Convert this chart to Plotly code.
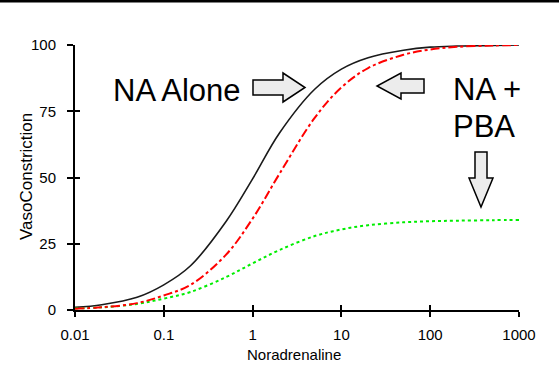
import plotly.graph_objects as go

# Data
conc = [0.01, 0.02, 0.05, 0.1, 0.2, 0.5, 1, 2, 5, 10, 20, 50, 100, 200, 500, 1000]
na_alone = [1.0, 2.0, 4.8, 9.5, 16.7, 33.3, 49.5, 66.7, 83.3, 90.9, 95.2, 98.0, 99.2, 99.6, 99.8, 100]
na_pba_red = [0.5, 1.0, 2.6, 5.5, 9.5, 20.8, 34.5, 51.3, 72.5, 84.0, 91.3, 96.3, 98.3, 99.3, 99.8, 100]
na_pba_green = [0.6, 1.0, 2.3, 4.3, 6.8, 12.4, 17.6, 22.6, 27.9, 30.4, 32.0, 33.1, 33.5, 33.7, 33.9, 34.0]

x_ticks = [0.01, 0.1, 1, 10, 100, 1000]
x_tick_text = ["0.01", "0.1", "1", "10", "100", "1000"]
y_ticks = [0, 25, 50, 75, 100]

FONT = "Liberation Sans, Arial, sans-serif"

fig = go.Figure()
fig.add_trace(go.Scatter(x=conc, y=na_alone, mode="lines", line=dict(color="#1a1a1a", width=1.6, shape="spline"), showlegend=False))
fig.add_trace(go.Scatter(x=conc, y=na_pba_green, mode="lines", line=dict(color="#00ee00", width=2, dash="dot", shape="spline"), showlegend=False))
fig.add_trace(go.Scatter(x=conc, y=na_pba_red, mode="lines", line=dict(color="#ff0000", width=2, dash="dashdot", shape="spline"), showlegend=False))

axis_common = dict(showgrid=False, zeroline=False, showline=True, linecolor="black", linewidth=2,
                   ticks="outside", tickcolor="black", tickwidth=2,
                   tickfont=dict(family=FONT, size=15, color="black"))

fig.update_layout(
    width=559, height=392,
    margin=dict(l=75, r=40, t=45, b=82),
    paper_bgcolor="white", plot_bgcolor="white",
    font=dict(family=FONT, color="black"),
    xaxis=dict(type="log", range=[-2, 3], tickvals=x_ticks, ticktext=x_tick_text, ticklen=5,
               ticklabelstandoff=5, **axis_common),
    yaxis=dict(range=[0, 100], tickvals=y_ticks, ticklen=6, ticklabelstandoff=8, **axis_common),
    xaxis2=dict(type="log", range=[-2, 3], tickvals=x_ticks, ticks="inside", ticklen=5, tickwidth=2,
                tickcolor="black", showticklabels=False, showgrid=False, zeroline=False,
                overlaying="x", anchor="y"),
    yaxis2=dict(range=[0, 100], tickvals=y_ticks, ticks="inside", ticklen=5, tickwidth=2,
                tickcolor="black", showticklabels=False, showgrid=False, zeroline=False,
                overlaying="y", anchor="x"),
)
# invisible trace to activate overlay axes
fig.add_trace(go.Scatter(x=[conc[0]], y=[na_alone[0]], xaxis="x2", yaxis="y2", mode="markers",
                         marker=dict(opacity=0), showlegend=False, hoverinfo="skip"))

# Axis titles
fig.add_annotation(xref="paper", yref="paper", x=(294 - 75) / 444, y=(310 - 354) / 265,
                   xanchor="center", yanchor="middle", text="Noradrenaline", showarrow=False,
                   font=dict(family=FONT, size=15, color="black"))
fig.add_annotation(xref="paper", yref="paper", x=(26 - 75) / 444, y=(310 - 177) / 265,
                   xanchor="center", yanchor="middle", text="VasoConstriction", showarrow=False,
                   textangle=-90, font=dict(family=FONT, size=17, color="black"))

# Text annotations
fig.add_annotation(xref="paper", yref="paper", x=(111 - 75) / 444, y=(310 - 90) / 265, xanchor="left",
                   yanchor="middle", text="NA Alone", showarrow=False,
                   font=dict(family=FONT, size=31, color="black"))
fig.add_annotation(xref="paper", yref="paper", x=(451 - 75) / 444, y=(310 - 89) / 265, xanchor="left",
                   yanchor="middle", text="NA +", showarrow=False,
                   font=dict(family=FONT, size=31, color="black"))
fig.add_annotation(xref="paper", yref="paper", x=(451 - 75) / 444, y=(310 - 126) / 265, xanchor="left",
                   yanchor="middle", text="PBA", showarrow=False,
                   font=dict(family=FONT, size=31, color="black"))


def P(px, py):
    return f"{(px - 75) / 444:.5f},{(310 - py) / 265:.5f}"


def arrow(points):
    path = "M " + " L ".join(P(a, b) for a, b in points) + " Z"
    fig.add_shape(type="path", xref="paper", yref="paper", path=path,
                  fillcolor="#ececec", line=dict(color="black", width=1.5))


# right-pointing arrow
arrow([(253, 80), (283, 80), (283, 73), (305, 87.5), (283, 102), (283, 95), (253, 95)])
# left-pointing arrow
arrow([(424, 79), (401, 79), (401, 73), (377, 86), (401, 99), (401, 93), (424, 93)])
# down-pointing arrow
arrow([(475, 152), (487, 152), (487, 178), (493, 178), (481, 207), (469, 178), (475, 178)])

# top border line of the picture
fig.add_shape(type="line", xref="paper", yref="paper", x0=-75 / 444, x1=484 / 444,
              y0=308.8 / 265, y1=308.8 / 265, line=dict(color="black", width=2.5))

fig.write_html("out.html", config={"displayModeBar": False},
               post_script="document.body.style.margin='0';document.body.style.overflow='hidden';")
